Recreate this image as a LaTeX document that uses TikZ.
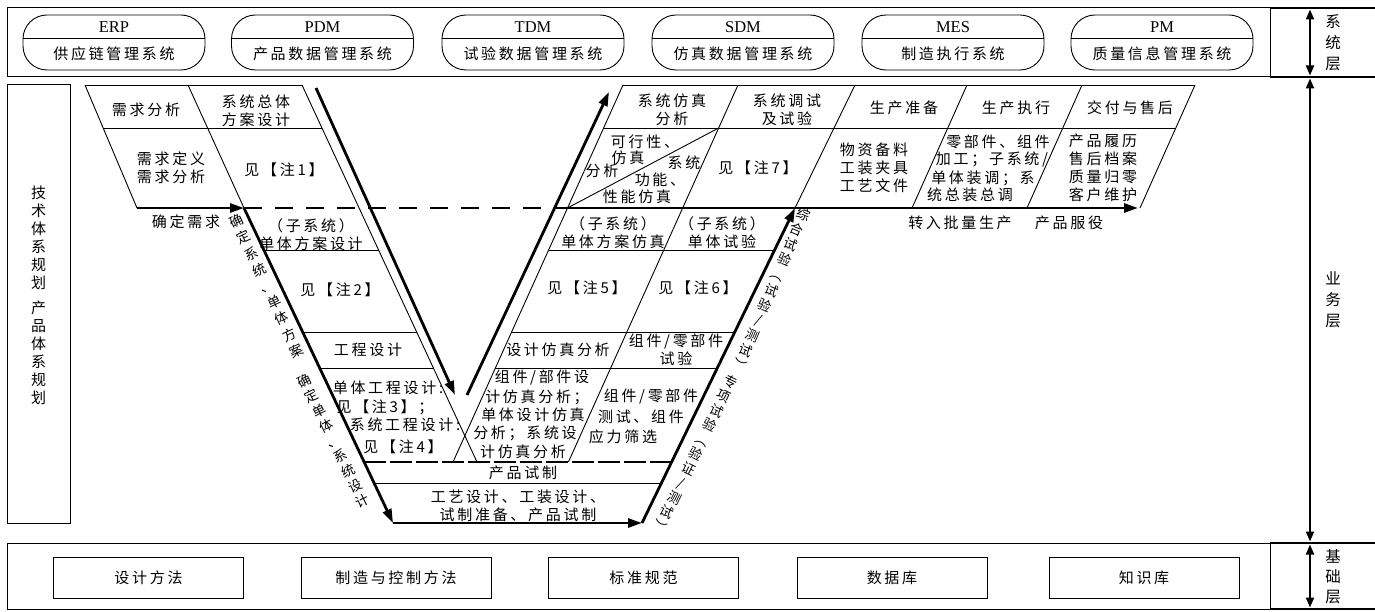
\documentclass[tikz,border=0pt]{standalone}
\usepackage{fontspec}
\setmainfont{Liberation Serif}
\newfontfamily\cjk{Noto Sans CJK SC}[LetterSpace=18]
\newfontfamily\cjkv{Noto Sans CJK SC}
\usetikzlibrary{arrows.meta,calc}
\begin{document}
\begin{tikzpicture}[x=1pt,y=-1pt,
  thn/.style={line width=0.9pt},
  bx/.style={line width=1pt},
  tka/.style={line width=2.8pt,-{Triangle[length=14pt,width=9pt]}},
  dsh/.style={line width=2.8pt,dash pattern=on 18pt off 13pt},
  dshb/.style={line width=2.6pt,dash pattern=on 22pt off 4pt},
  tx/.style={font=\cjk\fontsize{15}{18}\selectfont,inner sep=0pt,align=center},
  vt/.style={inner sep=0pt,align=center},
  ch/.style={inner sep=0pt,font=\cjkv\fontsize{13.5}{14}\selectfont,text height=8.5pt,text depth=0.5pt},
  sys/.style={draw,line width=0.9pt,rounded corners=24pt,minimum width=182pt,minimum height=55pt,inner sep=0pt},
  bbox/.style={draw,line width=0.9pt,minimum width=190pt,minimum height=41pt,inner sep=0pt,font=\cjk\fontsize{15}{18}\selectfont},
  lay/.style={line width=2pt,{Triangle[length=10pt,width=8pt]}-{Triangle[length=10pt,width=8pt]}},
  lat/.style={font=\fontsize{16.5}{16.5}\selectfont,inner sep=0pt},
]
\useasboundingbox (0,0) rectangle (1375,612);

% ---------------- system layer ----------------
\draw[bx] (7,8) rectangle (1270,77);
\draw[line width=1.6pt] (1270,8) -- (1375,8) (1270,77) -- (1375,77);
\draw[bx] (1270,8) -- (1270,77);
\foreach \x/\a/\b [count=\i] in {114/ERP/供应链管理系统,322.5/PDM/产品数据管理系统,533/TDM/试验数据管理系统,743/SDM/仿真数据管理系统,953/MES/制造执行系统,1162/PM/质量信息管理系统}{
  \node[sys] (s\i) at (\x,42.5) {};
  \draw[thn] (\x-90.8,38) -- (\x+90.8,38);
  \node[lat] (s\i a) at (\x,27.5) {\a};
  \node[tx] (s\i b) at (\x,54) {\b};
}
\draw[lay] (1310,9.5) -- (1310,75.5);
\node[vt,font=\cjkv\fontsize{15.5}{21}\selectfont] (l1) at (1333,43) {系\\统\\层};

% ---------------- business layer ----------------
\draw[lay] (1310,78.5) -- (1310,541.5);
\node[vt,font=\cjkv\fontsize{15.5}{21}\selectfont] (l2) at (1333,300) {业\\务\\层};
\node[draw,bx,minimum width=63pt,minimum height=438pt,inner sep=0pt] (plan) at (38.5,304) {};
\node[vt,font=\cjkv\fontsize{15}{18}\selectfont] (plant) at (38.5,295) {技\\术\\体\\系\\规\\划\\[7pt]产\\品\\体\\系\\规\\划};

% key points of the V
\coordinate (LT1) at (85,85);   \coordinate (LT2) at (188,85);  \coordinate (LT3) at (302,85);
\coordinate (LB1) at (137,208); \coordinate (LB2) at (244,208);
\coordinate (LM1) at (103,128); \coordinate (LM3) at (322,128);
\coordinate (Lend) at (393,523); \coordinate (LinB) at (477,462);
\coordinate (RT1) at (623,85);  \coordinate (RT2) at (738,85);  \coordinate (RT3) at (855,85);
\coordinate (RT4) at (967,85);  \coordinate (RT5) at (1082,85); \coordinate (RT6) at (1195,85);
\coordinate (RB1) at (567.5,208); \coordinate (RB3) at (795,208);
\coordinate (RB4) at (912,208); \coordinate (RB5) at (1027,208); \coordinate (RB6) at (1140,208);
\coordinate (RM1) at (603.6,128); \coordinate (RM6) at (1176,128); \coordinate (RMd) at (718.6,128);
\coordinate (RinB) at (453,462); \coordinate (D1B) at (568.4,462);
\coordinate (Rst) at (642,523);
\coordinate (Dend) at (555,208); \coordinate (Aend) at (1138,208);

% left top block
\draw[thn] (LT1) -- (LT3);
\draw[thn] (LT1) -- (LB1);
\draw[thn] (LT2) -- (LB2);
\draw[thn] (LT3) -- (LinB);
\draw[thn] (LM1) -- (LM3);
% right top block
\draw[thn] (RT1) -- (RT6);
\draw[thn] (RT1) -- (RinB);
\draw[thn] (RT2) -- (D1B);
\draw[thn] (RT3) -- (RB3);
\draw[thn] (RT4) -- (RB4);
\draw[thn] (RT5) -- (RB5);
\draw[thn] (RT6) -- (RB6);
\draw[thn] (RM1) -- (RM6);
\draw[thn] (RB1) -- (RMd);
% horizontal cell lines in the arms
\draw[thn] (264,250) -- (378.6,250);
\draw[thn] (302.7,332) -- (416.7,332);
\draw[thn] (319.8,368) -- (433.4,368);
\draw[thn] (548.6,250) -- (774.6,250);
\draw[thn] (511.6,332) -- (734.8,332);
\draw[thn] (495.4,368) -- (717.3,368);
\draw[dshb] (364,462) -- (671.6,462);
\draw[thn] (374,483) -- (661.4,483);

% main arrows
\draw[tka] (LB1) -- (LB2);
\draw[dsh] (LB2) -- (Dend);
\draw[tka] (Dend) -- (Aend);
\draw[tka] (LB2) -- (Lend);
\draw[tka] (Lend) -- (Rst);
\draw[tka] (Rst) -- (RB3);
\draw[tka] (316,88) -- (455,395);
\draw[tka] (467,395) -- (609,92);

% ---------- texts, left block ----------
\node[tx] (n1) at (146,110) {需求分析};
\node[tx] (n2) at (256,111) {系统总体\\方案设计};
\node[tx] (n3) at (171,168) {需求定义\\需求分析};
\node[tx] (n4) at (284,170) {见【注1】};
\node[tx] (n5) at (186,222) {确定需求};
\node[tx] (n6) at (311,235) {（子系统）\\单体方案设计};
\node[tx] (n7) at (340,290) {见【注2】};
\node[tx] (n8) at (368,350) {工程设计};
\node[tx] (n9a) at (388,388) {单体工程设计:};
\node[tx] (n9b) at (385,407) {见【注3】；};
\node[tx] (n9c) at (405,425) {系统工程设计:};
\node[tx] (n9d) at (403,447) {见【注4】};

% text written along the arms, one character at a time
\coordinate (v1s) at (236.7,222.1); \coordinate (v1e) at (297.3,351.9);
\foreach \c [count=\k from 0] in {确,定,系,统,、,单,体,方,案}
  \node[ch,rotate=25] (v1-\k) at ($(v1s)!\k/8!(v1e)$) {\makebox[8pt]{\c}};
\coordinate (v2s) at (304.9,382.3); \coordinate (v2e) at (363.1,501.7);
\foreach \c [count=\k from 0] in {确,定,单,体,、,系,统,设,计}
  \node[ch,rotate=26] (v2-\k) at ($(v2s)!\k/8!(v2e)$) {\makebox[8pt]{\c}};
\coordinate (v3s) at (803,215.5); \coordinate (v3e) at (739,366.5);
\foreach \c [count=\k from 0] in {综,合,试,验,︵,试,验,/,测,试,︶}
  \node[ch,rotate=-23] (v3-\k) at ($(v3s)!\k/10!(v3e)$) {\makebox[8pt]{\c}};
\coordinate (v4s) at (730.3,382.6); \coordinate (v4e) at (659.7,527.4);
\foreach \c [count=\k from 0] in {专,项,试,验,︵,验,证,/,测,试,︶}
  \node[ch,rotate=-26] (v4-\k) at ($(v4s)!\k/10!(v4e)$) {\makebox[8pt]{\c}};

% ---------- texts, bottom of V ----------
\node[tx] (p1) at (523,473) {产品试制};
\node[tx] (p2) at (518,506) {工艺设计、工装设计、\\试制准备、产品试制};

% ---------- texts, right arm ----------
\node[tx] (r1) at (613,233) {（子系统）\\单体方案仿真};
\node[tx] (r2) at (722,233) {（子系统）\\单体试验};
\node[tx] (r3) at (587,288) {见【注5】};
\node[tx] (r4) at (698,288) {见【注6】};
\node[tx] (r5) at (558,350) {设计仿真分析};
\node[tx] (r6) at (676,350) {组件/零部件\\试验};
\node[tx] (r7a) at (542,378) {组件/部件设};
\node[tx] (r7b) at (537,397) {计仿真分析；};
\node[tx] (r7c) at (533,415) {单体设计仿真};
\node[tx] (r7d) at (525,433) {分析；系统设};
\node[tx] (r7e) at (523,452) {计仿真分析};
\node[tx] (r8a) at (651,397) {组件/零部件};
\node[tx] (r8b) at (641,417) {测试、组件};
\node[tx] (r8c) at (623,437) {应力筛选};

% ---------- texts, right top block ----------
\node[tx] (q1) at (672,110) {系统仿真\\分析};
\node[tx] (q2) at (787,110) {系统调试\\及试验};
\node[tx] (q3) at (904,108) {生产准备};
\node[tx] (q4) at (1016,108) {生产执行};
\node[tx] (q5) at (1130,108) {交付与售后};
\node[tx] (q6a) at (645,142) {可行性、};
\node[tx] (q6b) at (628,158) {仿真};
\node[tx] (q6c) at (602,171) {分析};
\node[tx] (q6d) at (684,163) {系统};
\node[tx] (q6e) at (660,180) {功能、};
\node[tx] (q6f) at (637,197) {性能仿真};
\node[tx] (q7) at (758,168) {见【注7】};
\node[tx] (q8) at (874,168) {物资备料\\工装夹具\\工艺文件};
\node[tx] (q9a) at (998,142) {零部件、组件};
\node[tx] (q9b) at (992,160) {加工；子系统/};
\node[tx] (q9c) at (983,178) {单体装调；系};
\node[tx] (q9d) at (970,195) {统总装总调};
\node[tx] (q10) at (1103,168) {产品履历\\售后档案\\质量归零\\客户维护};
\node[tx] (q11) at (960,223) {转入批量生产};
\node[tx] (q12) at (1069,223) {产品服役};

% ---------------- base layer ----------------
\draw[bx] (7,543) rectangle (1270,609);
\draw[line width=1.6pt] (1270,543) -- (1375,543) (1270,609) -- (1375,609);
\draw[bx] (1270,543) -- (1270,609);
\draw[lay] (1310,544.5) -- (1310,607.5);
\node[vt,font=\cjkv\fontsize{15.5}{20}\selectfont] (l3) at (1333,577) {基\\础\\层};
\foreach \x/\t [count=\i] in {148.5/设计方法,396/制造与控制方法,643.5/标准规范,892/数据库,1144/知识库}{
  \node[bbox] (b\i) at (\x,577.5) {\t};
}
\end{tikzpicture}
\end{document}
